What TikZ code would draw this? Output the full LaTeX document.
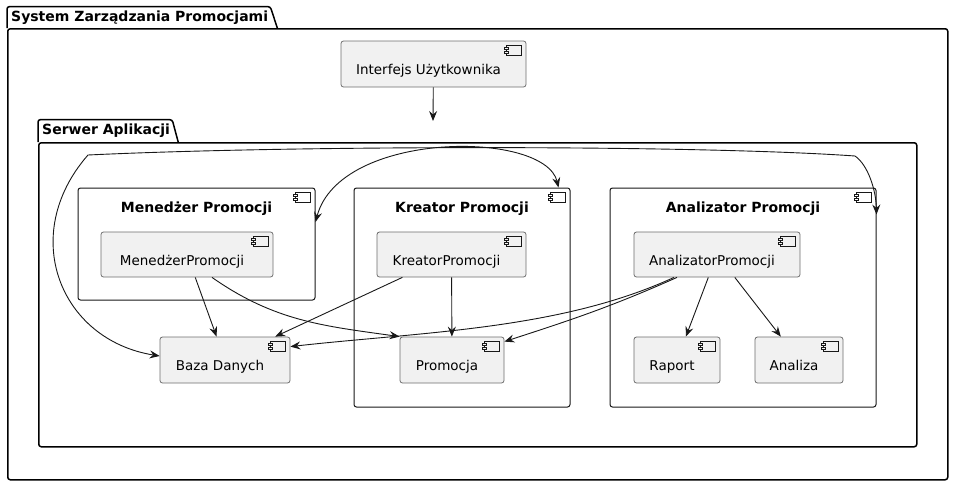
\documentclass[tikz,border=0pt]{standalone}
\usepackage{fontspec}
\setmainfont{DejaVu Sans}
\usetikzlibrary{arrows.meta,calc}
\definecolor{Ink}{HTML}{181818}
\definecolor{Frame}{HTML}{6E6E6E}
\definecolor{Fill}{HTML}{F1F1F1}

\begin{document}
\begin{tikzpicture}[x=1pt,y=1pt,
  >={Stealth[length=10pt,width=8pt,inset=3.5pt]},
  comp/.style={draw=Frame,line width=0.8pt,rounded corners=2.5pt,fill=Fill,inner sep=0pt,
               font=\fontsize{13.5}{16}\selectfont,text height=25pt,text depth=4pt,
               execute at begin node={\hspace*{-10pt}}},
  box/.style={draw=Ink,line width=1pt,rounded corners=2.5pt,fill=white,inner sep=0pt},
  pkgbody/.style={draw=black,line width=1.5pt,rounded corners=2.5pt,inner sep=0pt},
  pkg/.style={draw=black,line width=1.5pt,rounded corners=2.5pt},
  title/.style={font=\bfseries\fontsize{14}{16}\selectfont,inner sep=0pt},
  arrow/.style={->,line width=0.9pt,draw=Ink},
  both/.style={<->,line width=0.9pt,draw=Ink},
  compicon/.pic={
    \draw[draw=Ink,line width=0.7pt,fill=#1] (-15,0) rectangle (0,-10);
    \draw[draw=Ink,line width=0.7pt,fill=#1] (-17,-2) rectangle (-13,-4);
    \draw[draw=Ink,line width=0.7pt,fill=#1] (-17,-6) rectangle (-13,-8);
  }
]
  \useasboundingbox (0,0) rectangle (953,-485);

  % packages
  \node[pkgbody,minimum width=940,minimum height=451,anchor=north west] (system) at (7,-28) {};
  \node[title,anchor=south west,minimum height=21] (systemT) at ([xshift=4]system.north west) {System Zarządzania Promocjami};
  \draw[pkg] (system.north west) |- ([xshift=2]systemT.north east) -- ([xshift=9]systemT.east |- system.north);

  \node[pkgbody,minimum width=878,minimum height=304,anchor=north west] (serwer) at (38,-142) {};
  \node[title,anchor=south west,minimum height=22] (serwerT) at ([xshift=4]serwer.north west) {Serwer Aplikacji};
  \draw[pkg] (serwer.north west) |- ([xshift=2]serwerT.north east) -- ([xshift=8]serwerT.east |- serwer.north);
  \coordinate (serwerTop) at (433,-121);

  % components with content
  \node[box,minimum width=237,minimum height=112] (menedzer) at (196.5,-244) {};
  \node[title] (menedzerT) at ([yshift=-21]menedzer.north) {Menedżer Promocji};
  \node[box,minimum width=216,minimum height=219] (kreator) at (462,-297.5) {};
  \node[title] (kreatorT) at ([yshift=-21]kreator.north) {Kreator Promocji};
  \node[box,minimum width=266,minimum height=219] (analizator) at (743,-297.5) {};
  \node[title] (analizatorT) at ([yshift=-21]analizator.north) {Analizator Promocji};
  \foreach \n in {menedzer,kreator,analizator}
    \pic at ([shift={(-5,-5)}]\n.north east) {compicon=white};

  % plain components
  \node[comp,minimum width=185,minimum height=46] (ui) at (433.5,-64) {Interfejs Użytkownika};
  \node[comp,minimum width=172,minimum height=45] (menedzerP) at (187,-254.5) {MenedżerPromocji};
  \node[comp,minimum width=149,minimum height=45] (kreatorP) at (451.5,-254.5) {KreatorPromocji};
  \node[comp,minimum width=166,minimum height=45] (analizatorP) at (717,-254.5) {AnalizatorPromocji};
  \node[comp,minimum width=130,minimum height=46] (baza) at (225,-360) {Baza Danych};
  \node[comp,minimum width=104,minimum height=46] (promocja) at (452,-360) {Promocja};
  \node[comp,minimum width=86,minimum height=46] (raport) at (677,-360) {Raport};
  \node[comp,minimum width=88,minimum height=46] (analiza) at (799,-360) {Analiza};
  \foreach \n in {ui,menedzerP,kreatorP,analizatorP,baza,promocja,raport,analiza}
    \pic at ([shift={(-5,-5)}]\n.north east) {compicon=Fill};

  % dependencies
  \draw[arrow] (ui) -- (serwerTop);
  \draw[arrow] (menedzerP) -- (baza);
  \draw[arrow] ([xshift=25]menedzerP.south) to[out=-35,in=172] (promocja.north west);
  \draw[arrow] (kreatorP) -- (baza);
  \draw[arrow] (kreatorP) -- (promocja);
  \draw[arrow] ([xshift=-43]analizatorP.south) .. controls (560,-330) and (420,-332) .. ([yshift=-10]baza.north east);
  \draw[arrow] ([xshift=-40]analizatorP.south) to[out=204,in=18] ([yshift=-5]promocja.north east);
  \draw[arrow] (analizatorP) -- (raport);
  \draw[arrow] (analizatorP) -- (analiza);
  \draw[both] ([yshift=22]menedzer.east) .. controls (340,-130) and (545,-130) .. ([xshift=-12]kreator.north east);
  \draw[both] ([yshift=4]baza.west) .. controls (60,-340) and (18,-235) .. (88,-155)
    .. controls (300,-145) and (700,-145) .. (855,-156)
    .. controls (868,-165) and (876,-190) .. ([yshift=-27]analizator.north east);
\end{tikzpicture}
\end{document}
